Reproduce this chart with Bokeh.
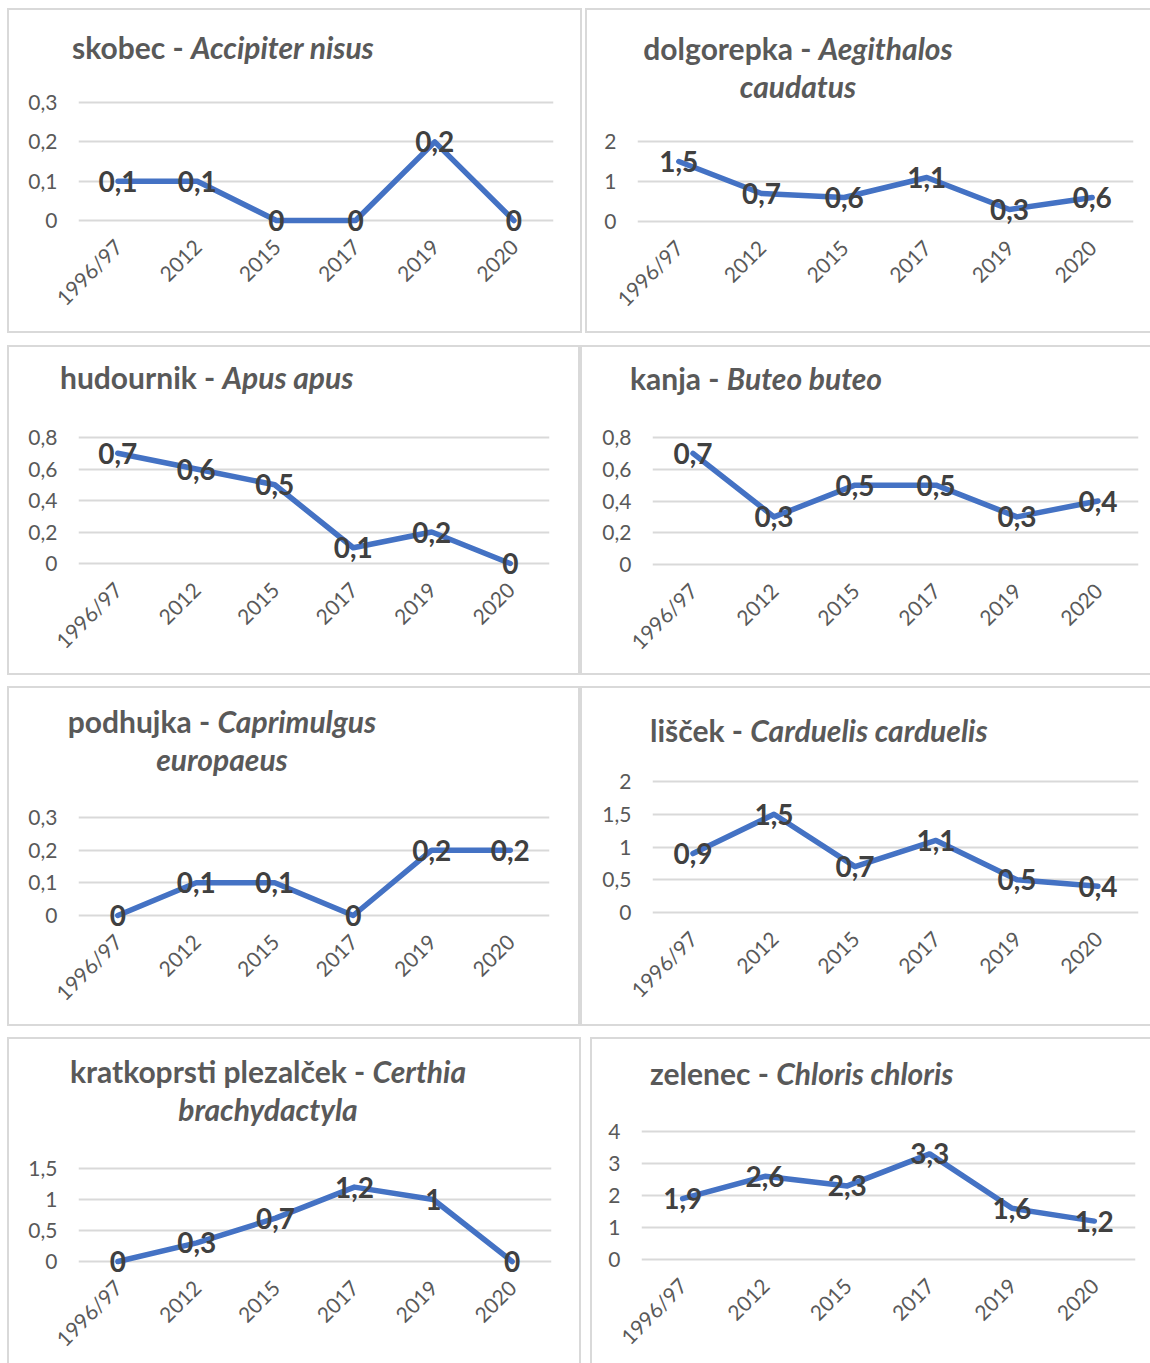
import math
from bokeh.plotting import figure
from bokeh.models import (FactorRange, Range1d, FixedTicker, CustomJSTickFormatter,
                          ColumnDataSource, Div, Spacer)
from bokeh.layouts import row, column
from bokeh.embed import file_html
from bokeh.resources import INLINE
from bokeh.core.properties import value

# ---------------- data ----------------
categories = ["1996/97", "2012", "2015", "2017", "2019", "2020"]

skobec = [0.1, 0.1, 0, 0, 0.2, 0]
dolgorepka = [1.5, 0.7, 0.6, 1.1, 0.3, 0.6]
hudournik = [0.7, 0.6, 0.5, 0.1, 0.2, 0]
kanja = [0.7, 0.3, 0.5, 0.5, 0.3, 0.4]
podhujka = [0, 0.1, 0.1, 0, 0.2, 0.2]
liscek = [0.9, 1.5, 0.7, 1.1, 0.5, 0.4]
kratkoprsti = [0, 0.3, 0.7, 1.2, 1, 0]
zelenec = [1.9, 2.6, 2.3, 3.3, 1.6, 1.2]

ticks_skobec = [0, 0.1, 0.2, 0.3]
ticks_dolgorepka = [0, 1, 2]
ticks_hudournik = [0, 0.2, 0.4, 0.6, 0.8]
ticks_kanja = [0, 0.2, 0.4, 0.6, 0.8]
ticks_podhujka = [0, 0.1, 0.2, 0.3]
ticks_liscek = [0, 0.5, 1, 1.5, 2]
ticks_kratkoprsti = [0, 0.5, 1, 1.5]
ticks_zelenec = [0, 1, 2, 3, 4]

# title pieces: (common name, latin name line 1, latin name line 2)
titles = [
    ("skobec - ", "Accipiter nisus", ""),
    ("dolgorepka - ", "Aegithalos", "caudatus"),
    ("hudournik - ", "Apus apus", ""),
    ("kanja - ", "Buteo buteo", ""),
    ("podhujka - ", "Caprimulgus", "europaeus"),
    ("lišček - ", "Carduelis carduelis", ""),
    ("kratkoprsti plezalček - ", "Certhia", "brachydactyla"),
    ("zelenec - ", "Chloris chloris", ""),
]

series = [skobec, dolgorepka, hudournik, kanja, podhujka, liscek, kratkoprsti, zelenec]
ticks_all = [ticks_skobec, ticks_dolgorepka, ticks_hudournik, ticks_kanja,
             ticks_podhujka, ticks_liscek, ticks_kratkoprsti, ticks_zelenec]

# ---------------- layout (absolute page pixels, border box) ----------------
# panel_x, panel_y, panel_w, panel_h, title_h, grid_left, grid_right, y_top_grid, y_zero_grid
boxes = [
    (7, 8, 575, 325, 70, 78, 553, 102, 220),
    (585, 8, 567, 325, 110, 637, 1133, 141, 221),
    (7, 345, 573, 330, 70, 78, 549, 437, 563),
    (580, 345, 572, 330, 70, 652, 1138, 437, 564),
    (7, 686, 573, 340, 110, 78, 549, 817, 915),
    (580, 686, 572, 340, 70, 652, 1138, 781, 912),
    (7, 1037, 574, 328, 110, 78, 551, 1168, 1261),
    (590, 1037, 562, 328, 70, 641, 1135, 1131, 1259),
]
# (mode, x, baseline of first line): "left" -> x is left edge, "center" -> x is centre
title_pos = [
    ("left", 72, 59),
    ("center", 798, 60),
    ("left", 60, 389),
    ("left", 630, 390),
    ("center", 222, 733),
    ("left", 650, 742),
    ("center", 268, 1083),
    ("left", 650, 1085),
]

FONT = "Lato"
GRAY = "#595959"
LINE = "#4472C4"
GRID = "#d9d9d9"
TITLE_SIZE = 30
TITLE_LH = 38
BW = 2  # border width


def fmt(v):
    return f"{v:g}".replace(".", ",")


def make_panel(vals, ticks, box, title, tpos):
    px, py, pw, ph, th, gl, gr, ytop, y0 = box
    # interior (inside the outline)
    ix, iy, iw, ih = px + BW, py + BW, pw - 2 * BW, ph - 2 * BW
    ymax = ticks[-1]
    k = (y0 - ytop) / ymax
    pad_t, pad_b = 8, 14
    div_h = th - BW
    fig_top = iy + div_h
    fig_h = ih - div_h
    p = figure(width=iw, height=fig_h, title=None,
               x_range=FactorRange(factors=categories),
               y_range=Range1d(-pad_b / k, ymax + pad_t / k),
               output_backend="svg", toolbar_location=None,
               min_border_left=gl - ix, min_border_right=ix + iw - gr,
               min_border_top=(ytop - pad_t) - fig_top,
               min_border_bottom=(iy + ih) - (y0 + pad_b))
    p.outline_line_color = None
    p.background_fill_color = "white"
    p.border_fill_color = "white"

    p.xgrid.visible = False
    p.ygrid.ticker = FixedTicker(ticks=ticks)
    p.ygrid.grid_line_color = GRID
    p.ygrid.grid_line_width = 2

    ya = p.yaxis[0]
    ya.ticker = FixedTicker(ticks=ticks)
    ya.formatter = CustomJSTickFormatter(code="return tick.toString().replace('.', ',');")
    ya.axis_line_color = None
    ya.major_tick_line_color = None
    ya.minor_tick_line_color = None
    ya.major_tick_out = 0
    ya.major_label_standoff = 21
    ya.major_label_text_font = FONT
    ya.major_label_text_font_size = "21px"
    ya.major_label_text_color = GRAY

    xa = p.xaxis[0]
    xa.axis_line_color = None
    xa.major_tick_line_color = None
    xa.minor_tick_line_color = None
    xa.major_tick_out = 0
    xa.major_label_orientation = math.pi / 4
    xa.major_label_standoff = 8
    xa.major_label_text_font = FONT
    xa.major_label_text_font_size = "21px"
    xa.major_label_text_color = GRAY

    src = ColumnDataSource(dict(x=categories, y=vals, label=[fmt(v) for v in vals]))
    p.line(x="x", y="y", source=src, line_color=LINE, line_width=5.5,
           line_join="round", line_cap="round")
    p.text(x="x", y="y", text="label", source=src, text_align="center",
           text_baseline="middle", text_font=value(FONT), text_font_size="28px",
           text_font_style="bold", text_color="#404040")

    # title as HTML (mixed upright / italic)
    common, latin1, latin2 = title
    mode, tx, base = tpos
    pad_top = base - iy - (TITLE_LH - TITLE_SIZE * 1.2) / 2 - TITLE_SIZE * 0.987
    html_text = f"{common}<i>{latin1}</i>"
    if latin2:
        html_text += f"<br><i>{latin2}</i>"
    if mode == "left":
        pos = f"margin-left:{tx - ix}px;"
    else:
        pos = f"margin-left:{tx - ix - 260}px; width:520px; text-align:center;"
    html = (f'<div style="{pos} padding-top:{pad_top:.1f}px; white-space:nowrap; '
            f'font-family:{FONT}; font-size:{TITLE_SIZE}px; font-weight:bold; '
            f'color:{GRAY}; line-height:{TITLE_LH}px;">{html_text}</div>')
    d = Div(text=html, width=iw, height=div_h, margin=(0, 0, 0, 0))
    panel = column(d, p, spacing=0, width=iw, height=ih)
    panel.styles = {"outline": f"{BW}px solid {GRID}", "outline-offset": "0px",
                    "background-color": "white"}
    return panel, ix, iy, iw, ih


built = [make_panel(series[i], ticks_all[i], boxes[i], titles[i], title_pos[i]) for i in range(8)]

children = []
cur_y = 0
for r in range(4):
    left, right = built[2 * r], built[2 * r + 1]
    _, lx, ly, lw, lh = left
    _, rx, ry, rw, rh = right
    children.append(Spacer(height=ly - cur_y, width=10))
    children.append(row(Spacer(width=lx, height=lh), left[0],
                        Spacer(width=rx - (lx + lw), height=lh), right[0], spacing=0))
    cur_y = ly + lh

layout = column(*children, spacing=0)

open("out.html", "w").write(file_html(layout, INLINE))
